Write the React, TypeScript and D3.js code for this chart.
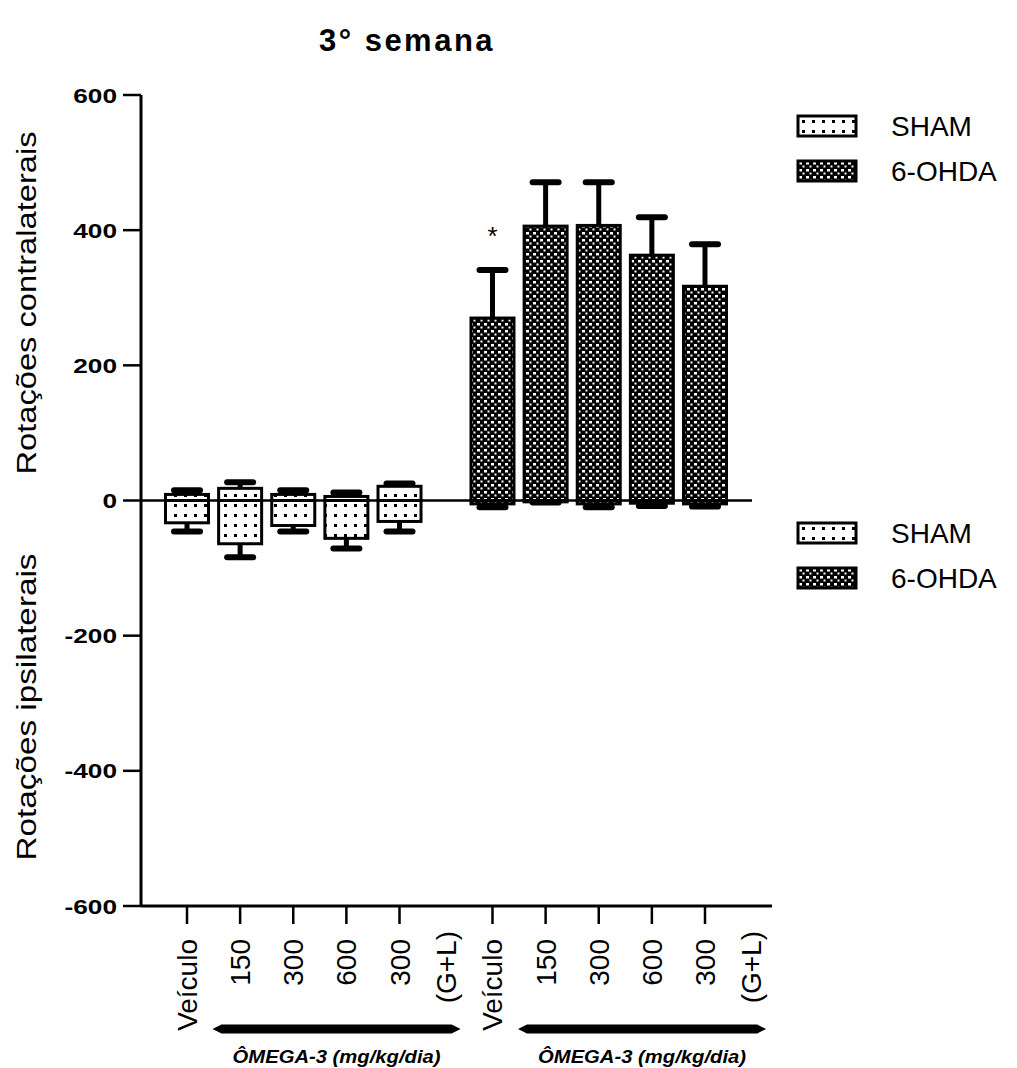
import React from "react";
import * as d3 from "d3";

// x categories (slots) — "300 (G+L)" has a second line
const doses = ["Veículo", "150", "300", "600", "300"];
const groups = ["SHAM", "6-OHDA"];

// contralateral (positive) means and error tops
const shamPos = [9, 18, 9, 6, 21];
const shamPosErr = [15, 27, 15, 12, 25];
const ohdaPos = [270, 406, 407, 363, 317];
const ohdaPosErr = [341, 471, 471, 419, 379];

// ipsilateral (negative) means and error bottoms
const shamNeg = [-33, -64, -37, -56, -31];
const shamNegErr = [-46, -84, -46, -71, -46];
const ohdaNeg = [-5, -2, -5, -4, -5];
const ohdaNegErr = [-10, -3, -10, -8, -9];

const yTicks = [-600, -400, -200, 0, 200, 400, 600];
const signif = [true, false, false, false, false]; // asterisk over 6-OHDA bars

const FONT = "'Liberation Sans', Arial, sans-serif";

export default function App() {
  const width = 1017;
  const height = 1068;

  const y = d3.scaleLinear().domain([-600, 600]).range([906, 95]);
  // slot positions; second group starts 5.75 slots after first
  const x = d3.scaleLinear().domain([0, 9.75]).range([187, 705]);
  const groupOffset = 5.75;
  const barW = 43;
  const capW = 26;

  const axisLeft = 141;
  const axisRight = 772;

  const bars: { x: number; v: number; e: number; g: number; i: number }[] = [];
  [shamPos, ohdaPos].forEach((arr, g) => {
    const errs = g === 0 ? shamPosErr : ohdaPosErr;
    arr.forEach((v, i) => bars.push({ x: x(g * groupOffset + i), v, e: errs[i], g, i }));
  });
  [shamNeg, ohdaNeg].forEach((arr, g) => {
    const errs = g === 0 ? shamNegErr : ohdaNegErr;
    arr.forEach((v, i) => bars.push({ x: x(g * groupOffset + i), v, e: errs[i], g, i }));
  });

  const fills = ["url(#shamPat)", "url(#ohdaPat)"];

  const legend = (top: number, key: string) => (
    <g key={key}>
      {groups.map((name, gi) => (
        <g key={name} transform={`translate(798, ${top + gi * 45})`}>
          <rect x={0} y={0} width={58} height={20} fill={fills[gi]} stroke="#000" strokeWidth={3} />
          <text x={93} y={20} fontFamily={FONT} fontSize={28}>
            {name}
          </text>
        </g>
      ))}
    </g>
  );

  const arrowBar = (x0: number, x1: number, yy: number, key: string) => (
    <path
      key={key}
      d={`M${x0},${yy} L${x0 + 9},${yy - 4.5} L${x1 - 9},${yy - 4.5} L${x1},${yy} L${x1 - 9},${yy + 4.5} L${x0 + 9},${yy + 4.5} Z`}
      fill="#000"
    />
  );

  return (
    <svg width={width} height={height} style={{ position: "absolute", left: 0, top: 0, background: "#fff" }}>
      <defs>
        <pattern id="shamPat" width={10} height={10} patternUnits="userSpaceOnUse">
          <rect width={10} height={10} fill="#fff" />
          <rect x={4} y={4} width={3} height={3} fill="#000" />
        </pattern>
        <pattern id="ohdaPat" width={7} height={7} patternUnits="userSpaceOnUse">
          <rect width={7} height={7} fill="#000" />
          <rect x={1} y={1} width={3} height={2.5} fill="#fff" />
          <rect x={4.5} y={4.5} width={2} height={2} fill="#fff" />
        </pattern>
      </defs>

      {/* title */}
      <text x={407} y={51} textAnchor="middle" fontFamily={FONT} fontWeight="bold" fontSize={31} letterSpacing={2.5}>
        3° semana
      </text>

      {/* y axis labels */}
      <text
        transform="translate(36, 303) rotate(-90)"
        textAnchor="middle"
        fontFamily={FONT}
        fontSize={27}
        textLength={343}
        lengthAdjust="spacingAndGlyphs"
      >
        Rotações contralaterais
      </text>
      <text
        transform="translate(36, 707) rotate(-90)"
        textAnchor="middle"
        fontFamily={FONT}
        fontSize={27}
        textLength={307}
        lengthAdjust="spacingAndGlyphs"
      >
        Rotações ipsilaterais
      </text>

      {/* bars */}
      {bars.map((b, k) => {
        const top = Math.min(y(b.v), y(0));
        const h = Math.abs(y(b.v) - y(0));
        return (
          <g key={k}>
            <line x1={b.x} x2={b.x} y1={y(b.v)} y2={y(b.e)} stroke="#000" strokeWidth={5} />
            <line
              x1={b.x - capW / 2}
              x2={b.x + capW / 2}
              y1={y(b.e)}
              y2={y(b.e)}
              stroke="#000"
              strokeWidth={6}
              strokeLinecap="round"
            />
            <rect x={b.x - barW / 2} y={top} width={barW} height={h} fill={fills[b.g]} stroke="#000" strokeWidth={3} />
          </g>
        );
      })}

      {/* zero line */}
      <line x1={axisLeft} x2={752} y1={y(0)} y2={y(0)} stroke="#000" strokeWidth={2.5} />

      {/* asterisks */}
      {signif.map((s, i) =>
        s ? (
          <text key={i} x={x(groupOffset + i)} y={y(ohdaPosErr[i]) - 25} textAnchor="middle" fontFamily={FONT} fontSize={26}>
            *
          </text>
        ) : null
      )}

      {/* y axis */}
      <line x1={axisLeft} x2={axisLeft} y1={y(600)} y2={y(-600)} stroke="#000" strokeWidth={3} />
      {yTicks.map((t) => (
        <g key={t}>
          <line x1={axisLeft - 18} x2={axisLeft} y1={y(t)} y2={y(t)} stroke="#000" strokeWidth={2.5} />
          <text
            transform={`translate(117, ${y(t) + 7.5}) scale(1.25, 1)`}
            textAnchor="end"
            fontFamily={FONT}
            fontWeight="bold"
            fontSize={21}
          >
            {t}
          </text>
        </g>
      ))}

      {/* x axis */}
      <line x1={axisLeft} x2={axisRight} y1={y(-600)} y2={y(-600)} stroke="#000" strokeWidth={3} />
      {groups.map((g, gi) =>
        doses.map((d, i) => {
          const xx = x(gi * groupOffset + i);
          return (
            <g key={g + i}>
              <line x1={xx} x2={xx} y1={y(-600)} y2={y(-600) + 18} stroke="#000" strokeWidth={2.5} />
              <text
                transform={`translate(${xx + 10}, 939) rotate(-90)`}
                textAnchor="end"
                fontFamily={FONT}
                fontSize={28}
              >
                {d}
              </text>
              {i === doses.length - 1 ? (
                <text
                  transform={`translate(${xx + 56}, 931) rotate(-90)`}
                  textAnchor="end"
                  fontFamily={FONT}
                  fontSize={28}
                >
                  (G+L)
                </text>
              ) : null}
            </g>
          );
        })
      )}

      {/* treatment bars */}
      {groups.map((g, gi) => {
        const x0 = x(gi * groupOffset + 0.48);
        const x1 = x(gi * groupOffset + 5.15);
        return (
          <g key={"arr" + g}>
            {arrowBar(x0, x1, 1029, "a" + g)}
            <text
              x={(x0 + x1) / 2}
              y={1063}
              textAnchor="middle"
              fontFamily={FONT}
              fontWeight="bold"
              fontStyle="italic"
              fontSize={18}
              textLength={208}
              lengthAdjust="spacingAndGlyphs"
            >
              ÔMEGA-3 (mg/kg/dia)
            </text>
          </g>
        );
      })}

      {legend(116, "top")}
      {legend(523, "bottom")}
    </svg>
  );
}
